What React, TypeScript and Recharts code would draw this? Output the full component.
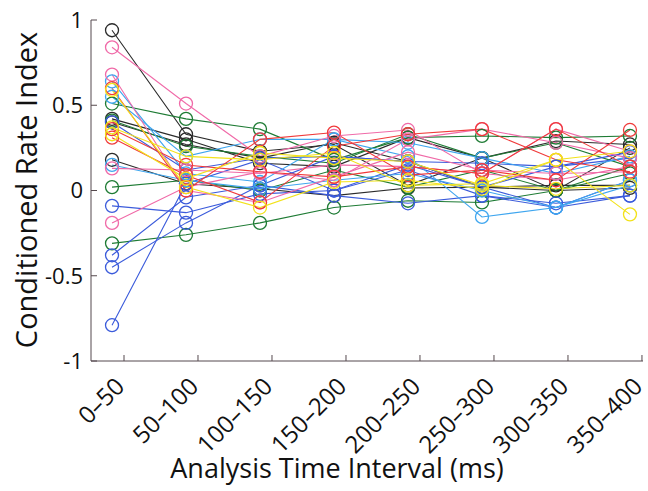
import { LineChart, Line, XAxis, YAxis } from 'recharts';

const categories = ['0–50', '50–100', '100–150', '150–200', '200–250', '250–300', '300–350', '350–400'];
const yTicks = [-1, -0.5, 0, 0.5, 1];

const COLORS: Record<string, string> = {
  k: '#2b2b2b',
  b: '#3b5bdb',
  g: '#1e7b34',
  r: '#f03a3a',
  c: '#3fa6ef',
  m: '#f06aa8',
  y: '#f2e21a',
};

const k1 = [0.94, 0.33, 0.23, 0.27, 0.03, 0.19, 0.0, 0.25];
const k2 = [0.42, 0.3, 0.16, 0.14, 0.31, 0.19, 0.29, 0.27];
const k3 = [0.18, 0.04, 0.01, -0.03, 0.015, 0.02, 0.0, 0.015];
const k4 = [0.4, 0.27, 0.19, 0.28, 0.17, 0.02, 0.03, 0.03];
const g1 = [0.51, 0.42, 0.36, 0.18, 0.31, 0.32, 0.31, 0.32];
const g2 = [0.41, 0.26, 0.2, 0.16, 0.33, 0.19, 0.28, 0.14];
const g3 = [0.02, 0.06, 0.0, 0.12, 0.02, 0.12, 0.0, 0.1];
const g4 = [-0.31, -0.26, -0.19, -0.1, -0.06, -0.07, 0.0, 0.14];
const b1 = [0.4, 0.12, 0.19, 0.2, 0.17, 0.02, 0.14, 0.225];
const b2 = [-0.09, -0.13, -0.02, 0.0, 0.12, -0.03, -0.075, -0.03];
const b3 = [-0.38, -0.04, 0.03, -0.03, -0.075, -0.03, -0.1, 0.06];
const b4 = [-0.45, -0.19, 0.03, 0.2, 0.17, 0.16, 0.14, 0.19];
const b5 = [-0.79, 0.04, 0.18, 0.0, 0.15, 0.02, -0.1, -0.03];
const c1 = [0.64, 0.1, 0.05, 0.3, 0.2, -0.155, -0.1, 0.06];
const c2 = [0.55, 0.2, 0.3, 0.3, 0.28, 0.19, 0.1, 0.2];
const c3 = [0.15, 0.06, 0.01, 0.06, 0.1, 0.0, -0.1, 0.03];
const m1 = [0.84, 0.51, 0.2, 0.32, 0.355, 0.1, 0.36, 0.23];
const m2 = [0.68, 0.0, -0.07, 0.08, 0.225, 0.12, 0.1, 0.11];
const m3 = [0.13, 0.12, 0.1, 0.15, 0.14, 0.1, 0.06, 0.14];
const m4 = [-0.19, 0.02, 0.11, 0.06, 0.3, 0.36, 0.28, 0.19];
const r1 = [0.6, 0.0, 0.3, 0.34, 0.09, 0.12, 0.06, 0.355];
const r2 = [0.36, 0.15, 0.11, 0.08, 0.14, 0.1, 0.36, 0.14];
const r3 = [0.31, 0.09, -0.07, 0.26, 0.33, 0.36, 0.18, 0.11];
const y1 = [0.59, 0.02, -0.1, 0.05, 0.06, 0.01, 0.18, -0.14];
const y2 = [0.37, 0.2, 0.18, 0.22, 0.03, 0.04, 0.18, 0.23];
const y3 = [0.33, 0.07, 0.22, 0.19, 0.17, 0.03, 0.01, 0.03];

const series = [
  { key: 'k1', color: 'k', values: k1 },
  { key: 'k2', color: 'k', values: k2 },
  { key: 'k3', color: 'k', values: k3 },
  { key: 'k4', color: 'k', values: k4 },
  { key: 'g1', color: 'g', values: g1 },
  { key: 'g2', color: 'g', values: g2 },
  { key: 'g3', color: 'g', values: g3 },
  { key: 'g4', color: 'g', values: g4 },
  { key: 'b1', color: 'b', values: b1 },
  { key: 'b2', color: 'b', values: b2 },
  { key: 'b3', color: 'b', values: b3 },
  { key: 'b4', color: 'b', values: b4 },
  { key: 'b5', color: 'b', values: b5 },
  { key: 'c1', color: 'c', values: c1 },
  { key: 'c2', color: 'c', values: c2 },
  { key: 'c3', color: 'c', values: c3 },
  { key: 'm1', color: 'm', values: m1 },
  { key: 'm2', color: 'm', values: m2 },
  { key: 'm3', color: 'm', values: m3 },
  { key: 'm4', color: 'm', values: m4 },
  { key: 'r1', color: 'r', values: r1 },
  { key: 'r2', color: 'r', values: r2 },
  { key: 'r3', color: 'r', values: r3 },
  { key: 'y1', color: 'y', values: y1 },
  { key: 'y2', color: 'y', values: y2 },
  { key: 'y3', color: 'y', values: y3 },
];

const data = categories.map((label, i) => {
  const row: Record<string, number | string> = { pos: i + 1, label };
  series.forEach((s) => {
    row[s.key] = s.values[i];
  });
  return row;
});

const AXIS = '#55494e';
const FONT = '"Open Sans", sans-serif';

const YTick = ({ x, y, payload }: any) => (
  <g>
    <line x1={x + 8} x2={x + 14} y1={y} y2={y} stroke={AXIS} strokeWidth={1} />
    <text x={x} y={y} dy="0.36em" textAnchor="end" fontSize={22} fontFamily={FONT} fill="#111">
      {payload.value}
    </text>
  </g>
);

const XTick = ({ x, y, payload }: any) => (
  <g>
    <line x1={x} x2={x} y1={y - 8} y2={y - 14} stroke={AXIS} strokeWidth={1} />
    <text
      x={x + 2}
      y={y + 19}
      textAnchor="end"
      fontSize={24}
      fontFamily={FONT}
      fill="#111"
      transform={`rotate(-45 ${x + 2} ${y + 19})`}
    >
      {categories[payload.value - 1]}
    </text>
  </g>
);

export default function App() {
  return (
    <div style={{ position: 'absolute', left: 0, top: 0, background: '#fff' }}>
      <LineChart width={648} height={491} data={data} margin={{ top: 20, right: 5, left: 0, bottom: 0 }}>
        <XAxis
          xAxisId="ticks"
          type="number"
          dataKey="pos"
          domain={[0.554, 8.014]}
          ticks={[1, 2, 3, 4, 5, 6, 7, 8]}
          allowDataOverflow
          height={130}
          stroke={AXIS}
          tickLine={false}
          tickSize={0}
          tickMargin={8}
          tick={<XTick />}
          interval={0}
          label={{
            content: () => (
              <text x={337} y={478} textAnchor="middle" fontSize={27} fontFamily={FONT} fill="#111">
                Analysis Time Interval (ms)
              </text>
            ),
          }}
        />
        <XAxis xAxisId="data" type="number" dataKey="pos" domain={[0.716, 8.176]} allowDataOverflow hide height={0} />
        <YAxis
          type="number"
          domain={[-1, 1]}
          ticks={yTicks}
          width={91}
          stroke={AXIS}
          tickLine={false}
          tickSize={0}
          tickMargin={8}
          tick={<YTick />}
          interval={0}
          label={{
            content: () => (
              <text
                x={37}
                y={190}
                textAnchor="middle"
                fontSize={29}
                fontFamily={FONT}
                fill="#111"
                transform="rotate(-90 37 190)"
              >
                Conditioned Rate Index
              </text>
            ),
          }}
        />
        {series.map((s) => (
          <Line
            key={s.key}
            xAxisId="data"
            dataKey={s.key}
            stroke={COLORS[s.color]}
            strokeWidth={1.1}
            isAnimationActive={false}
            activeDot={false}
            dot={{ r: 6.5, fill: 'none', stroke: COLORS[s.color], strokeWidth: 1.3 }}
          />
        ))}
      </LineChart>
    </div>
  );
}
